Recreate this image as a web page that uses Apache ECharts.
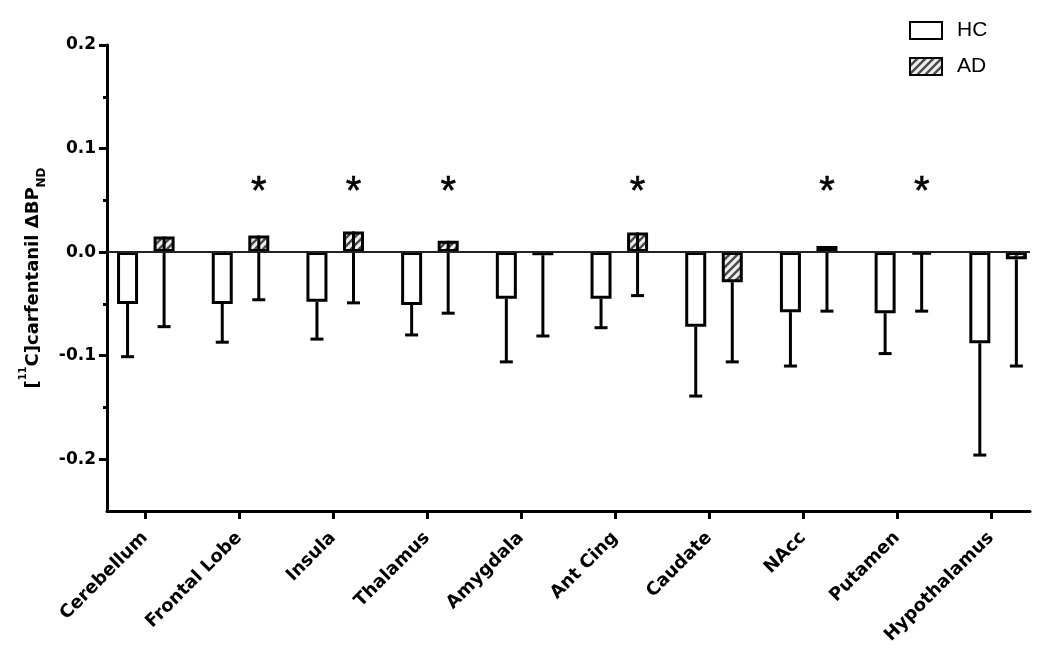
<!DOCTYPE html>
<html><head><meta charset="utf-8">
<script src="https://cdn.jsdelivr.net/npm/echarts@6/dist/echarts.min.js"></script>
<style>html,body{margin:0;padding:0;background:#fff}#c{width:1050px;height:655px}</style>
</head><body><div id="c"></div>
<script>
// ---- data ----
const categories = ['Cerebellum','Frontal Lobe','Insula','Thalamus','Amygdala','Ant Cing','Caudate','NAcc','Putamen','Hypothalamus'];
const hcMean = [-0.050, -0.050, -0.048, -0.051, -0.045, -0.045, -0.072, -0.058, -0.059, -0.088];
const hcLow  = [-0.101, -0.087, -0.084, -0.080, -0.106, -0.073, -0.139, -0.110, -0.098, -0.196];
const adMean = [0.015, 0.016, 0.020, 0.011, -0.003, 0.019, -0.029, 0.006, -0.002, -0.007];
const adLow  = [-0.072, -0.046, -0.049, -0.059, -0.081, -0.042, -0.106, -0.057, -0.057, -0.110];
const significant = [false, true, true, true, false, true, false, true, true, false];
const yTickValues = [-0.2, -0.1, 0.0, 0.1, 0.2];
const yMinorTickValues = [-0.15, -0.05, 0.05, 0.15];

// ---- style ----
const STAR_Y = 0.066;
const BAR_W = 21;
const BAR_GAP = 0.74;
const BAR_OFFSET = (BAR_W + BAR_W * BAR_GAP) / 2;
const LW = 3;
const LABEL_FONT = "'DejaVu Sans', sans-serif";

function hatch() {
  const c = document.createElement('canvas');
  c.width = 8; c.height = 8;
  const g = c.getContext('2d');
  g.fillStyle = '#eeeeee'; g.fillRect(0, 0, 8, 8);
  g.strokeStyle = '#4a4a4a'; g.lineWidth = 2.4;
  g.beginPath();
  g.moveTo(-2, 10); g.lineTo(10, -2);
  g.moveTo(-2, 2); g.lineTo(2, -2);
  g.moveTo(6, 10); g.lineTo(10, 6);
  g.stroke();
  return c;
}

const idx = categories.map((_, i) => i);

function errRender(sign) {
  return function (params, api) {
    const i = api.value(0), m = api.value(1), lo = api.value(2);
    const p0 = api.coord([i, m]);
    const p1 = api.coord([i, lo]);
    const x = p0[0] + sign * BAR_OFFSET;
    return {
      type: 'group',
      children: [
        { type: 'line', shape: { x1: x, y1: p0[1], x2: x, y2: p1[1] }, style: { stroke: '#000', lineWidth: LW } },
        { type: 'line', shape: { x1: x - 6.5, y1: p1[1], x2: x + 6.5, y2: p1[1] }, style: { stroke: '#000', lineWidth: LW } }
      ]
    };
  };
}

function starRender(params, api) {
  const i = api.value(0), v = api.value(1);
  const p = api.coord([i, v]);
  return {
    type: 'text',
    x: p[0] + BAR_OFFSET, y: p[1] + 9,
    style: { text: '*', fontSize: 40, fontFamily: "'Liberation Sans', Arial, sans-serif", fill: '#000', align: 'center', verticalAlign: 'middle', stroke: '#000', lineWidth: 0.6 }
  };
}

const chart = echarts.init(document.getElementById('c'), null, { renderer: 'canvas' });
chart.setOption({
  animation: false,
  backgroundColor: '#fff',
  grid: { left: 107, right: 20, top: 45, bottom: 144, containLabel: false },
  legend: {
    data: ['HC', 'AD'],
    orient: 'vertical', left: 904, top: 15,
    icon: 'rect', itemWidth: 32, itemHeight: 17, itemGap: 15,
    textStyle: { fontSize: 21, fontFamily: "'Liberation Sans', Arial, sans-serif", color: '#000', padding: [0, 0, 0, 10] }
  },
  xAxis: [{
    type: 'value', min: -0.404, max: 9.415,
    axisLine: { show: true, onZero: false, lineStyle: { color: '#000', width: LW } },
    axisTick: { show: true, customValues: idx, length: 8, lineStyle: { color: '#000', width: LW } },
    axisLabel: {
      customValues: idx, formatter: v => categories[Math.round(v)], rotate: 45, margin: 24,
      fontSize: 18, fontWeight: 'bold', fontFamily: LABEL_FONT, color: '#000'
    },
    splitLine: { show: false }
  }, {
    type: 'value', min: -0.41, max: 9.337, position: 'bottom',
    axisLine: { show: false, onZero: false }, axisTick: { show: false }, axisLabel: { show: false },
    splitLine: { show: false }
  }],
  yAxis: [{
    type: 'value', min: -0.25, max: 0.2, position: 'left',
    axisLine: { show: true, onZero: false, lineStyle: { color: '#000', width: LW } },
    axisTick: { show: true, customValues: yTickValues, length: 8, lineStyle: { color: '#000', width: LW } },
    axisLabel: {
      customValues: yTickValues, formatter: v => v.toFixed(1), margin: 11,
      fontSize: 17, fontWeight: 'bold', fontFamily: LABEL_FONT, color: '#000'
    },
    splitLine: { show: false },
    name: '{b|[}{sup|11}{b|C]carfentanil ΔBP}{sub|ND}',
    nameLocation: 'middle', nameRotate: 90, nameGap: 58,
    nameTextStyle: {
      rich: {
        b: { fontSize: 18, fontWeight: 'bold', fontFamily: LABEL_FONT, color: '#000', lineHeight: 30 },
        sup: { fontSize: 10, fontWeight: 'bold', fontFamily: LABEL_FONT, color: '#000', lineHeight: 10, verticalAlign: 'top' },
        sub: { fontSize: 12, fontWeight: 'bold', fontFamily: LABEL_FONT, color: '#000', lineHeight: 12, verticalAlign: 'bottom' }
      }
    }
  }, {
    type: 'value', min: -0.25, max: 0.2, position: 'left', offset: 0,
    axisLine: { show: false, onZero: false },
    axisTick: { show: true, customValues: yMinorTickValues, length: 4, lineStyle: { color: '#000', width: LW } },
    axisLabel: { show: false },
    splitLine: { show: false }
  }],
  series: [
    {
      name: 'HC', type: 'bar', xAxisIndex: 1, barWidth: BAR_W, barGap: (BAR_GAP * 100) + '%',
      data: hcMean.map((v, i) => [i, v]),
      itemStyle: { color: '#fff', borderColor: '#000', borderWidth: LW },
      markLine: {
        silent: true, symbol: 'none', label: { show: false },
        lineStyle: { color: '#222', width: 2, type: 'solid' },
        data: [{ yAxis: 0 }]
      }
    },
    {
      name: 'AD', type: 'bar', xAxisIndex: 1, barWidth: BAR_W,
      data: adMean.map((v, i) => [i, v]),
      itemStyle: { color: { image: hatch(), repeat: 'repeat' }, borderColor: '#000', borderWidth: LW }
    },
    {
      name: 'HC err', type: 'custom', xAxisIndex: 1, renderItem: errRender(-1),
      data: hcMean.map((v, i) => [i, v, hcLow[i]]), z: 3
    },
    {
      name: 'AD err', type: 'custom', xAxisIndex: 1, renderItem: errRender(1),
      data: adMean.map((v, i) => [i, v, adLow[i]]), z: 3
    },
    {
      name: 'sig', type: 'custom', xAxisIndex: 1, renderItem: starRender,
      data: idx.filter(i => significant[i]).map(i => [i, STAR_Y]), z: 4
    }
  ]
});
</script></body></html>
